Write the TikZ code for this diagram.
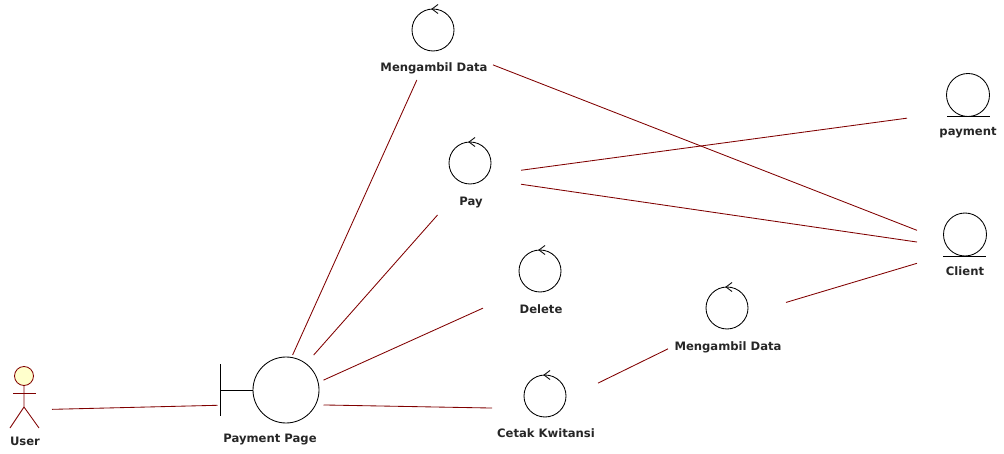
\documentclass[tikz,border=0pt]{standalone}
\usepackage{fontspec}
\setmainfont{DejaVu Sans}
\usepackage{tikz}
\definecolor{linkred}{HTML}{800000}
\definecolor{headyellow}{HTML}{FFFFCC}

\begin{document}
\begin{tikzpicture}
[x=1pt,y=-1pt,line width=0.85pt,
hitbox/.style 2 args={rectangle,inner sep=0pt,outer sep=0pt,minimum width=#1pt,minimum height=#2pt},
caption/.style={inner sep=0pt,text=black!85,font=\fontsize{11.6}{13}\selectfont\bfseries},
ball/.style={circle,draw,inner sep=0pt,minimum size=#1pt},
link/.style={draw,linkred},
control/.pic={\draw[line join=round] (5,-25.5) -- (-1,-21) -- (5,-16.5);}]
\useasboundingbox (0,0) rectangle (1004,454);
% invisible boxes, the links stop at their borders
\node (user) [hitbox={54}{80}] at (25,410) {};
\node (page) [hitbox={106}{98}] at (270.5,404) {};
\node (fetchtop) [hitbox={118}{76}] at (434,42) {};
\node (pay) [hitbox={100}{76}] at (471,177) {};
\node (delete) [hitbox={116}{80}] at (541,282) {};
\node (receipt) [hitbox={106}{80}] at (545,409) {};
\node (fetchlow) [hitbox={118}{80}] at (727,320) {};
\node (payment) [hitbox={122}{80}] at (968,110) {};
\node (client) [hitbox={96}{80}] at (965,249) {};
% actor
\node (head) [ball=19,draw=linkred,fill=headyellow] at (24,376) {};
\node (userlabel) [caption] at (25,441.5) {User};
\draw[linkred] (head.south) -- (24,407) -- (10,428);
\draw[linkred] (24,407) -- (39,428);
\draw[linkred] (13,393.5) -- (36,393.5);
% boundary
\node (pagecircle) [ball=66] at (286,390) {};
\coordinate (pagebar) at (220,390);
\draw (pagebar) -- (pagecircle.west);
\draw (220,364) -- (220,416);
\node (pagelabel) [caption] at (270,439.5) {Payment Page};
% controls
\node (fetchtopcircle) [ball=42] at (433,30) {};
\pic at (433,30) {control};
\node (fetchtoplabel) [caption] at (434,68) {Mengambil Data};
\node (paycircle) [ball=42] at (470,163) {};
\pic at (470,163) {control};
\node (paylabel) [caption] at (471,203) {Pay};
\node (deletecircle) [ball=42] at (540,271) {};
\pic at (540,271) {control};
\node (deletelabel) [caption] at (541,309) {Delete};
\node (receiptcircle) [ball=42] at (545,396) {};
\pic at (545,396) {control};
\node (receiptlabel) [caption] at (546,433.5) {Cetak Kwitansi};
\node (fetchlowcircle) [ball=42] at (727,308) {};
\pic at (727,308) {control};
\node (fetchlowlabel) [caption] at (728,347) {Mengambil Data};
% entities
\node (paymentcircle) [ball=43] at (968,95) {};
\draw (947,116.5) -- (990,116.5);
\node (paymentlabel) [caption] at (968,132.5) {payment};
\node (clientcircle) [ball=43] at (965,234.5) {};
\draw (943,256) -- (986,256);
\node (clientlabel) [caption] at (965,271.5) {Client};
% links
\draw[link] (user) -- (page);
\draw[link] (page) -- (fetchtop);
\draw[link] (page) -- (pay);
\draw[link] (page) -- (delete);
\draw[link] (page) -- (receipt);
\draw[link] (receipt) -- (fetchlow);
\draw[link] (fetchlow) -- (client);
\draw[link] (fetchtop) -- (client);
\draw[link] (pay) -- (client);
\draw[link] (pay) -- (payment);
\end{tikzpicture}
\end{document}
